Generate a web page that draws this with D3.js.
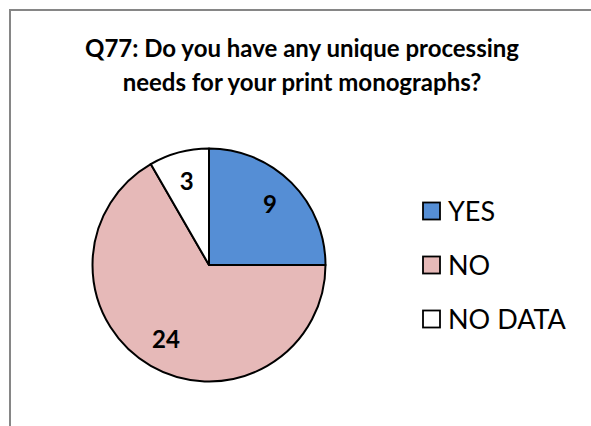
<!DOCTYPE html>
<html>
<head>
<meta charset="utf-8">
<script src="https://cdn.jsdelivr.net/npm/d3@7"></script>
<style>
  html, body { margin: 0; padding: 0; background: #ffffff; }
  svg { display: block; }
  text { font-family: "Lato", "Open Sans", sans-serif; }
</style>
</head>
<body>
<svg id="chart" width="591" height="426"></svg>
<script>
// Survey answers for Q77
const categories = ["YES", "NO", "NO DATA"];
const counts = [9, 24, 3];
const colors = ["#558ED5", "#E6B9B8", "#FFFFFF"];
const titleLines = [
  "Q77: Do you have any unique processing",
  "needs for your print monographs?"
];

const svg = d3.select("#chart");
const W = 591, H = 426;

// chart area frame (runs off the right and bottom edges)
svg.append("path")
  .attr("d", `M10,${H + 2} L10,10 L${W + 2},10`)
  .attr("fill", "none")
  .attr("stroke", "#868686")
  .attr("stroke-width", 2);

// title
const title = svg.append("text")
  .attr("text-anchor", "middle")
  .attr("font-weight", "bold")
  .attr("font-size", 24)
  .attr("fill", "#000");
titleLines.forEach((line, i) => {
  title.append("tspan")
    .attr("x", 302)
    .attr("y", 57 + i * 34)
    .text(line);
});

// pie
const cx = 209, cy = 265, radius = 116.5;
const pie = d3.pie().sort(null).value(d => d.value);
const arcs = pie(categories.map((c, i) => ({ name: c, value: counts[i], color: colors[i] })));
const arc = d3.arc().innerRadius(0).outerRadius(radius);
const labelArc = d3.arc().innerRadius(radius * 0.74).outerRadius(radius * 0.74);

const g = svg.append("g").attr("transform", `translate(${cx},${cy})`);
g.selectAll("path.slice")
  .data(arcs)
  .join("path")
  .attr("class", "slice")
  .attr("d", arc)
  .attr("fill", d => d.data.color)
  .attr("stroke", "#000")
  .attr("stroke-width", 2)
  .attr("stroke-linejoin", "round");

g.selectAll("text.value")
  .data(arcs)
  .join("text")
  .attr("class", "value")
  .attr("transform", d => `translate(${labelArc.centroid(d)})`)
  .attr("text-anchor", "middle")
  .attr("dy", "0.36em")
  .attr("font-weight", "bold")
  .attr("font-size", 24)
  .attr("fill", "#000")
  .text(d => d.data.value);

// legend
const legendY = d3.scalePoint().domain(categories).range([211, 319]);
const legend = svg.append("g");
const items = legend.selectAll("g.item")
  .data(arcs)
  .join("g")
  .attr("class", "item")
  .attr("transform", d => `translate(0,${legendY(d.data.name)})`);
items.append("rect")
  .attr("x", 423)
  .attr("y", -8.5)
  .attr("width", 17)
  .attr("height", 17)
  .attr("fill", d => d.data.color)
  .attr("stroke", "#000")
  .attr("stroke-width", 1.8);
items.append("text")
  .attr("x", 448)
  .attr("dy", "0.36em")
  .attr("font-size", 27)
  .attr("fill", "#000")
  .text(d => d.data.name);
</script>
</body>
</html>
